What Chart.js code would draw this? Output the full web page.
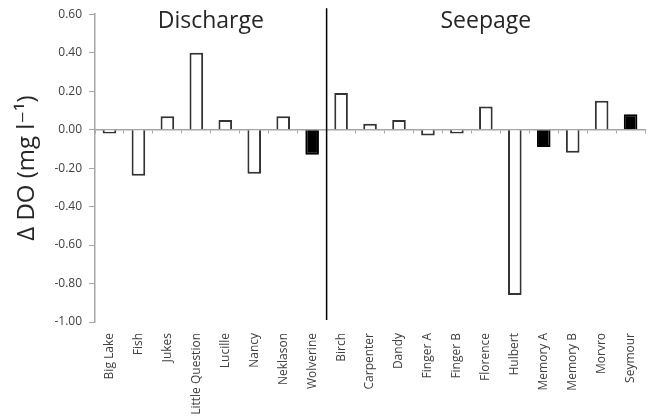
<!DOCTYPE html>
<html>
<head>
<meta charset="utf-8">
<script src="https://cdn.jsdelivr.net/npm/chart.js@4/dist/chart.umd.min.js"></script>
<style>
  html, body { margin: 0; padding: 0; background: #fff; }
  #wrap { width: 648px; height: 420px; }
</style>
</head>
<body>
<div id="wrap"><canvas id="chart" width="648" height="420"></canvas></div>
<script>
// Data
const lakes = ['Big Lake', 'Fish', 'Jukes', 'Little Question', 'Lucille', 'Nancy', 'Neklason', 'Wolverine',
    'Birch', 'Carpenter', 'Dandy', 'Finger A', 'Finger B', 'Florence', 'Hulbert', 'Memory A', 'Memory B', 'Morvro', 'Seymour'];
const deltaDO = [-0.02, -0.24, 0.07, 0.40, 0.05, -0.23, 0.07, -0.13,
    0.19, 0.03, 0.05, -0.03, -0.02, 0.12, -0.86, -0.09, -0.12, 0.15, 0.08];
const shadedLakes = ['Wolverine', 'Memory A', 'Seymour'];
const groupNames = ['Discharge', 'Seepage'];
const dischargeCount = 8;
const yTicks = [-1.0, -0.8, -0.6, -0.4, -0.2, 0.0, 0.2, 0.4, 0.6];

const FONT = "'Open Sans', 'DejaVu Sans', sans-serif";
const AXIS_GREY = '#a6a6a6';
const TEXT_GREY = '#404040';

// Group titles and the divider between the two groups
const groupPlugin = {
    id: 'groups',
    afterDatasetsDraw(chart) {
        const { ctx, chartArea, scales } = chart;
        const x = scales.x;
        const split = x.getPixelForValue(dischargeCount - 0.5);

        ctx.save();
        ctx.strokeStyle = '#000';
        ctx.lineWidth = 1.5;
        ctx.beginPath();
        ctx.moveTo(split, chartArea.top - 6);
        ctx.lineTo(split, chartArea.bottom - 2);
        ctx.stroke();

        ctx.fillStyle = '#262626';
        ctx.font = `23px ${FONT}`;
        ctx.textAlign = 'center';
        ctx.textBaseline = 'middle';
        ctx.fillText(groupNames[0], x.getPixelForValue((dischargeCount - 1) / 2), chartArea.top + 7);
        ctx.fillText(groupNames[1], x.getPixelForValue((dischargeCount + lakes.length - 1) / 2), chartArea.top + 7);
        ctx.restore();
    }
};

new Chart(document.getElementById('chart'), {
    type: 'bar',
    data: {
        labels: lakes,
        datasets: [{
            data: deltaDO,
            xAxisID: 'x',
            backgroundColor: lakes.map(l => shadedLakes.includes(l) ? '#000' : '#fff'),
            borderColor: lakes.map(l => shadedLakes.includes(l) ? '#000' : '#333'),
            borderWidth: 2,
            barPercentage: 0.47,
            categoryPercentage: 1.0
        }]
    },
    options: {
        responsive: false,
        animation: false,
        layout: { padding: { top: 12, right: 0, bottom: 0, left: 0 } },
        plugins: {
            legend: { display: false },
            tooltip: { enabled: false }
        },
        scales: {
            x: {
                position: 'bottom',
                border: { display: false },
                grid: { display: false },
                ticks: {
                    color: TEXT_GREY,
                    font: { family: FONT, size: 12 },
                    minRotation: 90,
                    maxRotation: 90,
                    padding: 3,
                    autoSkip: false
                },
                afterFit: s => { s.height = 98; }
            },
            x2: {
                type: 'category',
                position: { y: 0 },
                offset: true,
                border: { display: true, color: AXIS_GREY, width: 1.5 },
                grid: { offset: true, drawOnChartArea: false, drawTicks: true, tickLength: 3, color: AXIS_GREY },
                ticks: { display: false }
            },
            y: {
                min: yTicks[0],
                max: yTicks[yTicks.length - 1],
                afterBuildTicks: s => { s.ticks = yTicks.map(v => ({ value: v })); },
                border: { display: true, color: AXIS_GREY, width: 1.5 },
                grid: { drawOnChartArea: false, drawTicks: true, tickLength: 6, color: AXIS_GREY },
                ticks: {
                    color: TEXT_GREY,
                    font: { family: FONT, size: 12 },
                    padding: 7,
                    callback: v => (Math.abs(v) < 1e-9 ? 0 : v).toFixed(2)
                },
                title: {
                    display: true,
                    text: 'Δ DO (mg l\u207B\u00B9)',
                    color: '#262626',
                    font: { family: FONT, size: 24 },
                    padding: { top: 13, bottom: 0 }
                },
                afterFit: s => { s.width = 95; }
            }
        }
    },
    plugins: [groupPlugin]
});
</script>
</body>
</html>
